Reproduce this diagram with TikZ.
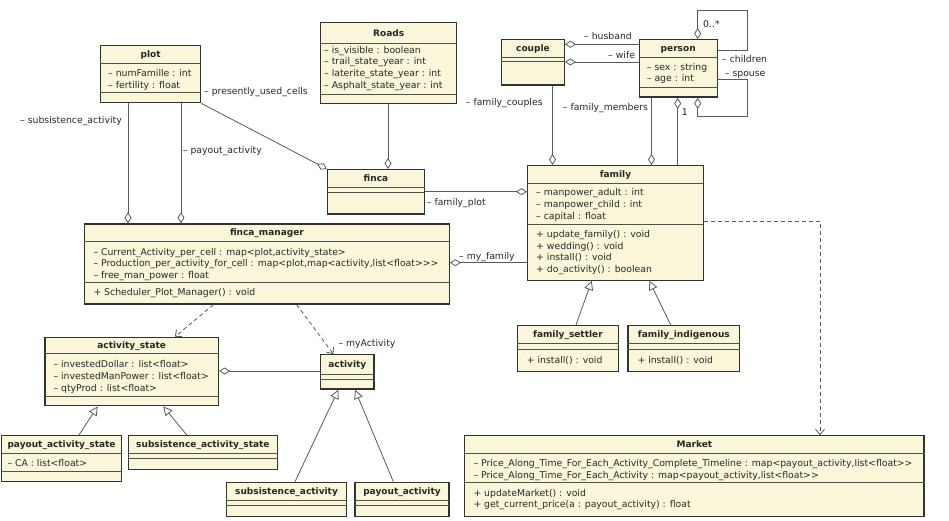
\documentclass[tikz,border=0pt]{standalone}
\usepackage{fontspec}
\newfontfamily\umlfont{DejaVu Sans}
\usetikzlibrary{arrows.meta,calc}

\definecolor{classfill}{RGB}{250,246,218}
\definecolor{classdraw}{RGB}{50,50,46}
\definecolor{linkgray}{RGB}{90,90,90}
\definecolor{textgray}{RGB}{40,40,40}

% class box: name, left, top, width, height, title row, attribute row, title
\newcommand{\umlclass}[8]{%
  \node[classbox, minimum width=#4pt, minimum height=#5pt] (#1) at (#2,#3) {};
  \node[classname] (#1-name) at ($(#1.north)+(0,{#6/2+3.3})$) {#8};
  \draw[divider] ($(#1.north west)+(0,#6)$) -- ($(#1.north east)+(0,#6)$);
  \draw[divider] ($(#1.north west)+(0,{#6+#7})$) -- ($(#1.north east)+(0,{#6+#7})$);
}
% text rows: name prefix, left, first baseline, entries
\newcommand{\umlrows}[4]{%
  \foreach \entry [count=\i] in {#4}
    \node[member] (#1\i) at (#2,{#3+11.7*(\i-1)}) {\entry};
}

\begin{document}
\begin{tikzpicture}[x=1pt, y=-1pt,
    classbox/.style={draw=classdraw, fill=classfill, line width=1.4pt, anchor=north west, inner sep=0pt},
    classname/.style={anchor=base, inner sep=0pt, font=\umlfont\fontsize{9}{11}\selectfont\bfseries, text=black!85},
    divider/.style={draw=classdraw!85, line width=0.8pt},
    member/.style={anchor=base west, inner sep=0pt, font=\umlfont\fontsize{9.3}{11.7}\selectfont, text=textgray},
    lbl/.style={member},
    link/.style={draw=linkgray, line width=0.8pt},
    agg/.style={link, {Diamond[open, length=11pt, width=7pt]}-},
    gen/.style={link, -{Triangle[open, length=9pt, width=9pt]}},
    dep/.style={link, dash pattern=on 4pt off 3pt, -{Straight Barb[length=5pt, width=9pt]}},
  ]
  \fill[white] (0,0) rectangle (949,521);
  \useasboundingbox (0,0) rectangle (949,521);

  % Classes
  \umlclass{plot}{100}{45}{100}{57}{18}{29}{plot}
  \umlrows{plot-a}{108}{76.6}{{– numFamille : int}, {– fertility : float}}

  \umlclass{roads}{320}{22}{136}{81}{21.5}{50.5}{Roads}
  \umlrows{roads-a}{324}{53.3}{{– is\_visible : boolean}, {– trail\_state\_year : int}, {– laterite\_state\_year : int}, {– Asphalt\_state\_year : int}}

  \umlclass{couple}{501}{39}{62.5}{45.5}{18.3}{4.4}{couple}

  \umlclass{person}{638.5}{39}{78}{57.5}{18.3}{30}{person}
  \umlrows{person-a}{646.7}{70.3}{{– sex : string}, {– age : int}}

  \umlclass{family}{527}{165}{175.5}{114.5}{18.3}{41}{family}
  \umlrows{family-a}{536}{196}{{– manpower\_adult : int}, {– manpower\_child : int}, {– capital : float}}
  \umlrows{family-o}{536}{237.3}{{+ update\_family() : void}, {+ wedding() : void}, {+ install() : void}, {+ do\_activity() : boolean}}

  \umlclass{finca}{327}{169}{96.5}{44.5}{18.7}{4.6}{finca}

  \umlclass{fmanager}{84}{223.3}{364.5}{80}{18.4}{41}{finca\_manager}
  \umlrows{fmanager-a}{93.3}{255}{{– Current\_Activity\_per\_cell : map<plot,activity\_state>}, {– Production\_per\_activity\_for\_cell : map<plot,map<activity,list<float>>>}, {– free\_man\_power : float}}
  \umlrows{fmanager-o}{93.3}{295}{{+ Scheduler\_Plot\_Manager() : void}}

  \umlclass{actstate}{44.3}{336.7}{173.4}{68.3}{16.6}{43.4}{activity\_state}
  \umlrows{actstate-a}{53.3}{367.6}{{– investedDollar : list<float>}, {– investedManPower : list<float>}, {– qtyProd : list<float>}}

  \umlclass{activity}{320}{354}{53.3}{34.3}{20}{5}{activity}

  \umlclass{payoutstate}{1}{435}{119.7}{45.7}{18.3}{18.4}{payout\_activity\_state}
  \umlrows{payoutstate-a}{7.3}{466.6}{{– CA : list<float>}}

  \umlclass{substate}{127.7}{435}{149}{34}{18.3}{5}{subsistence\_activity\_state}
  \umlclass{subact}{226}{481.7}{119.7}{34}{18.3}{5}{subsistence\_activity}
  \umlclass{payact}{354.3}{481.7}{94}{34}{18.3}{5}{payout\_activity}

  \umlclass{settler}{516.7}{325}{101}{45.7}{18.3}{5.7}{family\_settler}
  \umlrows{settler-o}{526.7}{363.3}{{+ install() : void}}
  \umlclass{indigenous}{627.3}{325}{111.7}{45.7}{18.3}{5.7}{family\_indigenous}
  \umlrows{indigenous-o}{637.3}{363.3}{{+ install() : void}}

  \umlclass{market}{464}{435}{459.3}{80.7}{18.3}{29}{Market}
  \umlrows{market-a}{473.3}{466.6}{{– Price\_Along\_Time\_For\_Each\_Activity\_Complete\_Timeline : map<payout\_activity,list<float>>}, {– Price\_Along\_Time\_For\_Each\_Activity : map<payout\_activity,list<float>>}}
  \umlrows{market-o}{473.3}{496}{{+ updateMarket() : void}, {+ get\_current\_price(a : payout\_activity) : float}}

  % Associations
  \draw[agg] (couple.east |- 0,44.3) -- (person.west |- 0,44.3);
  \draw[agg] (couple.east |- 0,62) -- (person.west |- 0,62);
  \draw[agg] (697.7,0 |- person.north) |- (747,10) |- (person.east |- 0,50.7);
  \draw[agg] (697.7,0 |- person.south) |- (747,116.7) |- (person.east |- 0,79.3);
  \draw[agg] (677.7,0 |- person.south) -- (677.7,0 |- family.north);
  \draw[agg] (651.5,0 |- family.north) -- (651.5,0 |- person.south);
  \draw[agg] (552.5,0 |- family.north) -- (552.5,0 |- couple.south);
  \draw[agg] (388,0 |- finca.north) -- (388,0 |- roads.south);
  \draw[agg] (finca.north west) -- (plot.south east);
  \draw[agg] (family.west |- 0,191.7) -- (finca.east |- 0,191.7);
  \draw[agg] (fmanager.east |- 0,262.7) -- (family.west |- 0,262.7);
  \draw[agg] (128,0 |- fmanager.north) -- (128,0 |- plot.south);
  \draw[agg] (181,0 |- fmanager.north) -- (181,0 |- plot.south);
  \draw[agg] (actstate.east |- 0,371) -- (activity.west |- 0,371);

  % Dependencies
  \draw[dep] (213.3,0 |- fmanager.south) -- (175,0 |- actstate.north);
  \draw[dep] (296.7,0 |- fmanager.south) -- (333.3,0 |- activity.north);
  \draw[dep] (family.east |- 0,221) -| (820,0 |- market.north);

  % Inheritance
  \draw[gen] (79,0 |- payoutstate.north) -- (97.7,0 |- actstate.south);
  \draw[gen] (186.7,0 |- substate.north) -- (163.3,0 |- actstate.south);
  \draw[gen] (295,0 |- subact.north) -- (338.3,0 |- activity.south);
  \draw[gen] (393.3,0 |- payact.north) -- (355,0 |- activity.south);
  \draw[gen] (576,0 |- settler.north) -- (591.7,0 |- family.south);
  \draw[gen] (670.7,0 |- indigenous.north) -- (649.3,0 |- family.south);

  % Role names
  \node[lbl] (l-husband) at (584,40) {– husband};
  \node[lbl] (l-wife) at (608,59) {– wife};
  \node[lbl] (l-many) at (703,27.5) {0..*};
  \node[lbl] (l-children) at (722,62.6) {– children};
  \node[lbl] (l-spouse) at (724.7,76.6) {– spouse};
  \node[lbl] (l-one) at (681.7,115.5) {1};
  \node[lbl] (l-members) at (562.7,110.6) {– family\_members};
  \node[lbl] (l-couples) at (465.7,105.3) {– family\_couples};
  \node[lbl] (l-cells) at (204,95) {– presently\_used\_cells};
  \node[lbl] (l-plot) at (426.7,205.6) {– family\_plot};
  \node[lbl] (l-myfamily) at (459,259.3) {– my\_family};
  \node[lbl] (l-subsistence) at (20,123.3) {– subsistence\_activity};
  \node[lbl] (l-payout) at (182.7,153.3) {– payout\_activity};
  \node[lbl] (l-myactivity) at (338.3,346) {– myActivity};
\end{tikzpicture}
\end{document}
